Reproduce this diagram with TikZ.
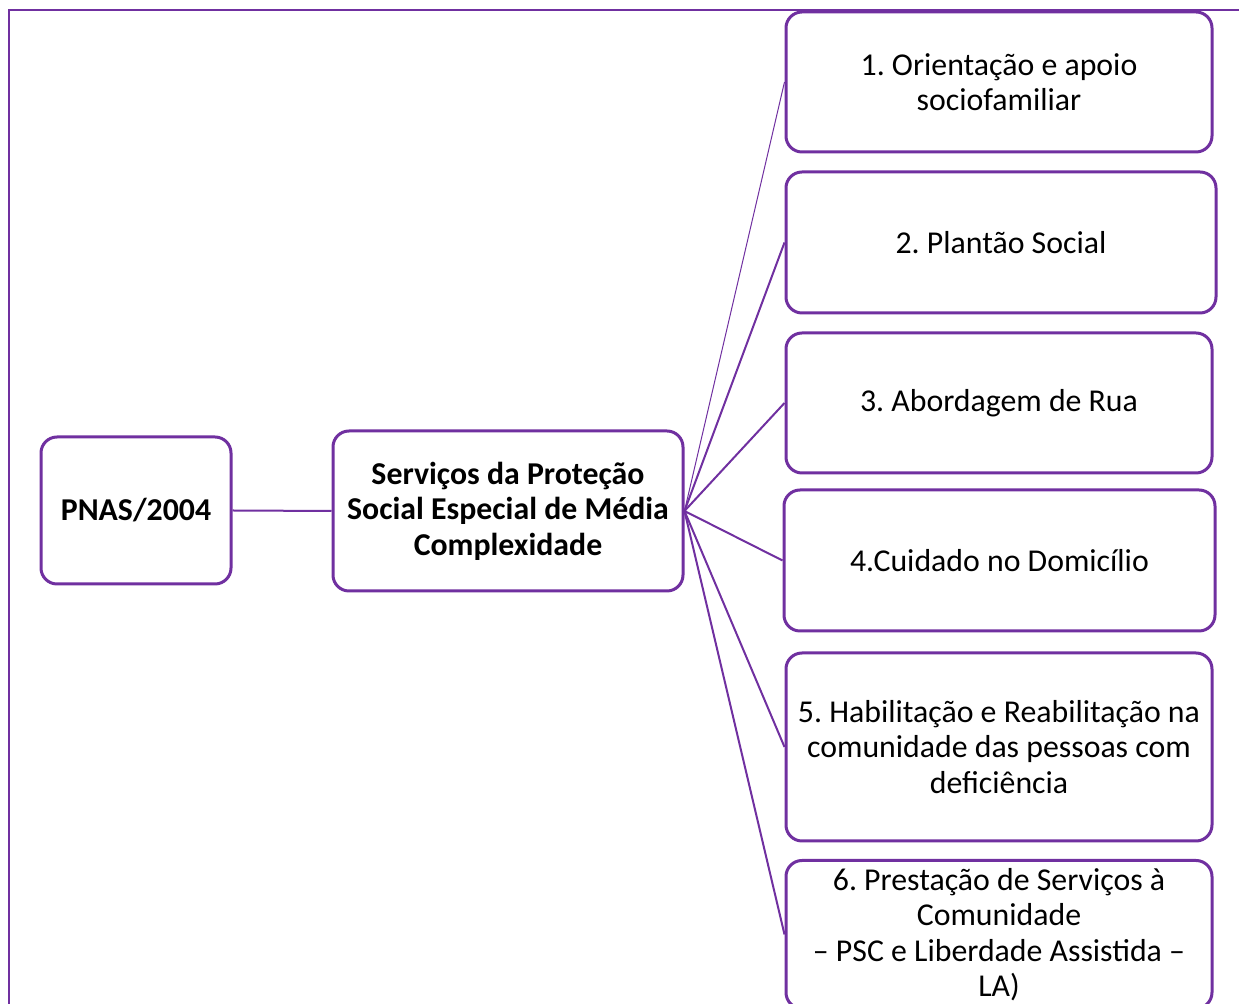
\documentclass[tikz,border=0pt]{standalone}
\usepackage{fontspec}
\setmainfont{Carlito}
\usepackage{xcolor}
\usepackage{tikz}
\definecolor{PURPLE}{HTML}{7030A0}
\definecolor{BLACK}{HTML}{000000}
\frenchspacing

\begin{document}
\begin{tikzpicture}[x=0.5pt, y=-0.5pt,
    box/.style={draw=PURPLE, line width=1.5pt, rounded corners=8pt, align=center, inner sep=0pt, text=BLACK, font=\fontsize{15.9}{17.7}\selectfont},
    link/.style={PURPLE, line width=1pt}]
    \useasboundingbox (0,0) rectangle (1239,1004);
    % Frame
    \draw[PURPLE, line width=1pt] (1260,10) -- (9,10) -- (9,1030);
    % Nodes
    \node[box, minimum width=95pt, minimum height=73.5pt, font=\fontsize{15.9}{17.7}\selectfont\bfseries] (pnas) at (136,510.5) {PNAS/2004};
    \node[box, minimum width=175pt, minimum height=80pt, font=\fontsize{15.9}{17.7}\selectfont\bfseries] (media) at (508,511) {Serviços da Proteção\\Social Especial de Média\\Complexidade};
    \node[box, minimum width=213pt, minimum height=70pt] (orient) at (999,82) {1. Orientação e apoio\\sociofamiliar};
    \node[box, minimum width=215pt, minimum height=70.5pt] (plantao) at (1001,242.5) {2. Plantão Social};
    \node[box, minimum width=213pt, minimum height=70pt] (rua) at (999,403) {3. Abordagem de Rua};
    \node[box, minimum width=215.5pt, minimum height=70.5pt] (domicilio) at (999.5,560.5) {4.Cuidado no Domicílio};
    \node[box, minimum width=213pt, minimum height=94pt] (habil) at (999,747) {5. Habilitação e Reabilitação na\\comunidade das pessoas com\\deficiência};
    \node[box, minimum width=213pt, minimum height=74pt] (psc) at (999,934.5) {6. Prestação de Serviços à\\Comunidade\\– PSC e Liberdade Assistida –\\LA)};
    % Links
    \draw[link] (pnas.east) -- (media.west);
    \draw[PURPLE, line width=0.5pt] (media.east) -- (orient.west);
    \foreach \n in {plantao, rua, domicilio, habil, psc}
        \draw[link] (media.east) -- (\n.west);
\end{tikzpicture}
\end{document}
